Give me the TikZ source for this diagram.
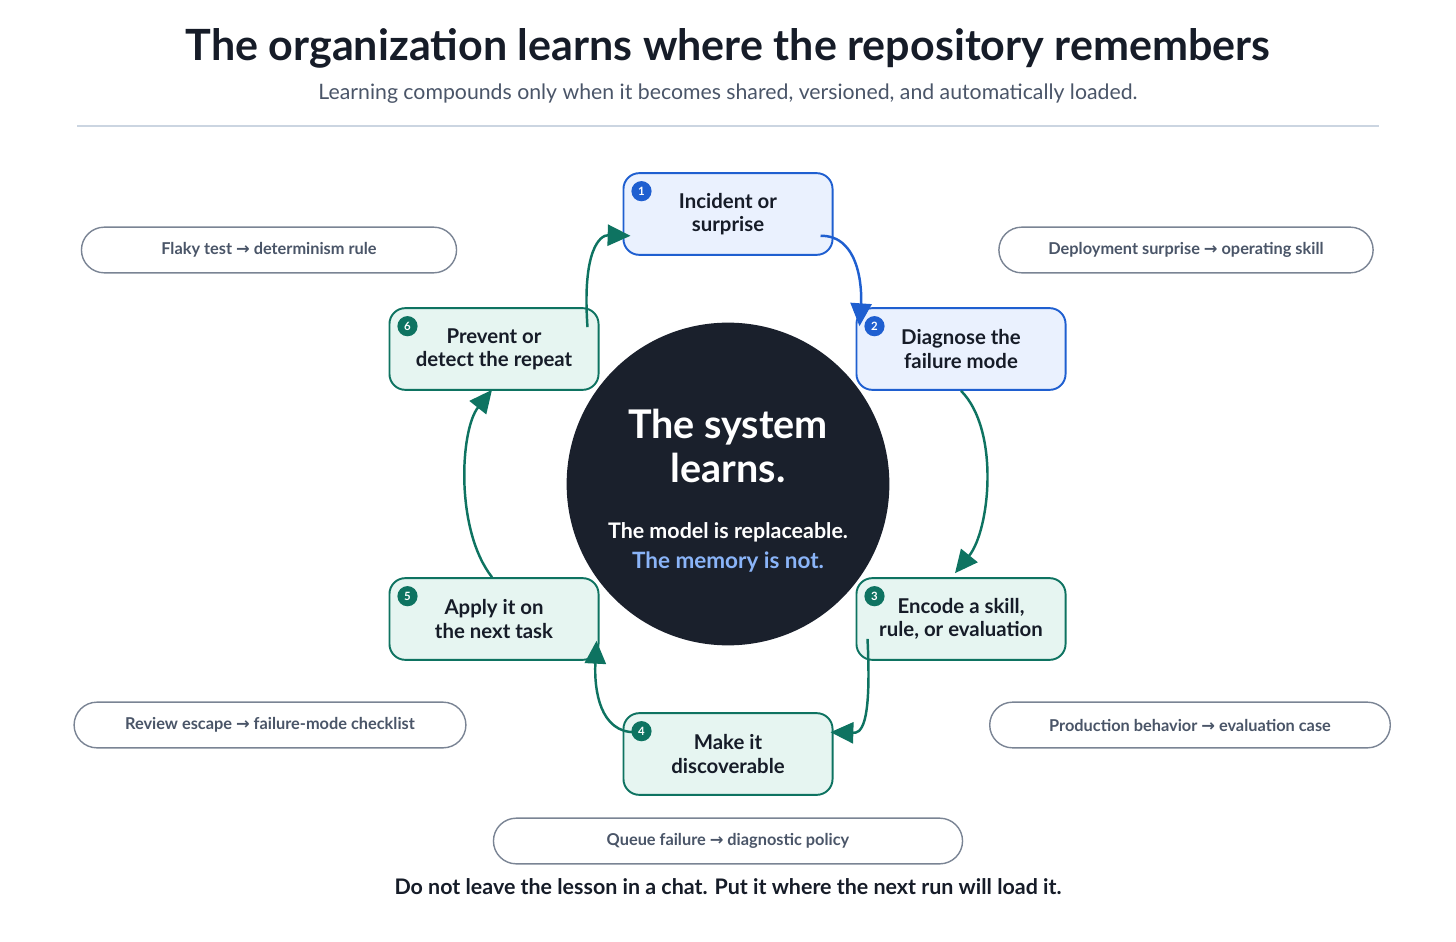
\documentclass[tikz,border=0pt]{standalone}
\usepackage{fontspec}
\setmainfont{Lato}
\newfontfamily\symfont{DejaVu Sans}
\usetikzlibrary{positioning,arrows.meta,calc}
\definecolor{ink}{HTML}{161C28}
\definecolor{slate}{HTML}{4A5568}
\definecolor{rule}{HTML}{CBD5E1}
\definecolor{bluedge}{HTML}{1F5FD0}
\definecolor{bluefill}{HTML}{EAF1FE}
\definecolor{greenedge}{HTML}{0E7361}
\definecolor{greenfill}{HTML}{E6F5F1}
\definecolor{core}{HTML}{1A202C}
\definecolor{memory}{HTML}{8AB4F8}
\definecolor{pillrim}{HTML}{7A8494}
\newcommand{\tip}{-{Triangle[length=13pt,width=12pt]}}
\newcommand{\toarrow}{{\symfont\bfseries →}}
\tikzset{
  stepbox/.style={draw, rounded corners=9pt, line width=1.1pt, minimum width=119pt,
    minimum height=46.5pt, align=center, font=\fontsize{11.6}{13.2}\selectfont\bfseries, text=ink},
  bluestep/.style={stepbox, draw=bluedge, fill=bluefill},
  greenstep/.style={stepbox, draw=greenedge, fill=greenfill},
  badge/.style={circle, inner sep=0pt, minimum size=11.5pt, text=white,
    font=\fontsize{6.5}{7}\selectfont\bfseries},
  pill/.style={draw=pillrim, rounded corners=13pt, line width=0.8pt, fill=white, minimum height=26pt,
    font=\fontsize{9.3}{10}\selectfont\bfseries, text=slate},
  flow/.style={line width=1.4pt, \tip}
}
\begin{document}
\begin{tikzpicture}[x=0.02cm, y=-0.02cm]
\useasboundingbox (0,0) rectangle (1456,942);
% heading
\node[font=\fontsize{24.5}{28}\selectfont\bfseries, text=ink] (title) at (728,48)
  {The organization learns where the repository remembers};
\node[font=\fontsize{12.1}{13}\selectfont, text=slate] (subtitle) at (728,94)
  {Learning compounds only when it becomes shared, versioned, and automatically loaded.};
\draw[rule, line width=0.8pt] (77,126) -- (1379,126);
% core
\node[circle, fill=core, minimum size=183.7pt, inner sep=0pt] (core) at (728,484) {};
\node[text=white, align=center, font=\fontsize{22.5}{25}\selectfont\bfseries] (learns) at (728,446)
  {The system\\learns.};
\node[text=white, font=\fontsize{12.2}{13}\selectfont\bfseries] (model) at (728,532) {The model is replaceable.};
\node[text=memory, font=\fontsize{12.8}{14}\selectfont\bfseries] (memory) at (728,562) {The memory is not.};
% steps
\node[bluestep] (s1) at (728,214) {Incident or\\surprise};
\node[bluestep] (s2) at (961,349) {Diagnose the\\failure mode};
\node[greenstep] (s3) at (961,619) {Encode a skill,\\rule, or evaluation};
\node[greenstep] (s4) at (728,754) {Make it\\discoverable};
\node[greenstep] (s5) at (494,619) {Apply it on\\the next task};
\node[greenstep] (s6) at (494,349) {Prevent or\\detect the repeat};
\foreach \s/\n/\c in {s1/1/bluedge, s2/2/bluedge, s3/3/greenedge, s4/4/greenedge, s5/5/greenedge, s6/6/greenedge}
  \node[badge, fill=\c] (b\n) at ($(\s.north west)+(19,19)$) {\n};
% connectors
\draw[flow, bluedge] ($(s1.south east)+(-13,-20)$) .. controls (860,235) and (862,290) .. ($(s2.north west)+(4,19)$);
\draw[flow, greenedge] (s2.south) .. controls (1000,430) and (990,530) .. ($(s3.north)+(-6,-4)$);
\draw[flow, greenedge] ($(s3.south west)+(12,-22)$) .. controls (872,730) and (860,733) .. ($(s4.north east)+(-3,20)$);
\draw[flow, greenedge] ($(s4.north west)+(13,20)$) .. controls (600,733) and (594,690) .. ($(s5.south east)+(-3,-20)$);
\draw[flow, greenedge] ($(s5.north)+(-2,0)$) .. controls (455,530) and (460,430) .. ($(s6.south)+(-2,-1)$);
\draw[flow, greenedge] ($(s6.north east)+(-12,20)$) .. controls (582,250) and (600,235) .. ($(s1.south west)+(8,-20)$);
% examples
\node[pill, minimum width=213.5pt] (flaky) at (269,250) {Flaky test \toarrow{} determinism rule};
\node[pill, minimum width=213pt] (deploy) at (1186,250) {Deployment surprise \toarrow{} operating skill};
\node[pill, minimum width=223pt] (review) at (270,725) {Review escape \toarrow{} failure-mode checklist};
\node[pill, minimum width=228pt] (prod) at (1190,725) {Production behavior \toarrow{} evaluation case};
\node[pill, minimum width=267pt] (queue) at (728,841) {Queue failure \toarrow{} diagnostic policy};
\node[font=\fontsize{12.2}{13}\selectfont\bfseries, text=ink] (closing) at (728,887)
  {Do not leave the lesson in a chat. Put it where the next run will load it.};
\end{tikzpicture}
\end{document}
